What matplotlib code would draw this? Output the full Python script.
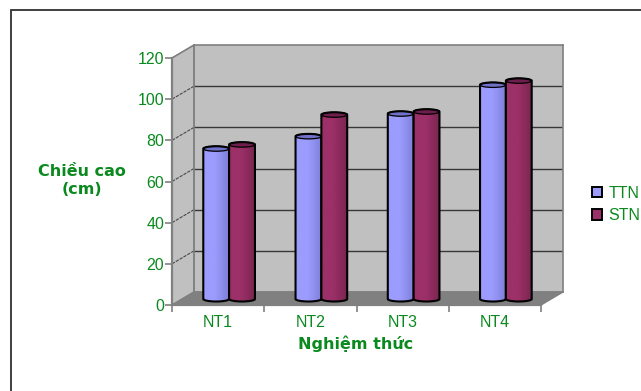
import numpy as np
import matplotlib
matplotlib.use("Agg")
import matplotlib.pyplot as plt
from matplotlib.patches import Polygon, Rectangle, Ellipse, Patch, PathPatch
from matplotlib.path import Path
from matplotlib.transforms import Affine2D

categories = ["NT1", "NT2", "NT3", "NT4"]
series_names = ["TTN", "STN"]
ttn = [73, 79, 90, 104]
stn = [75, 89.5, 91, 106]
yticks = [0, 20, 40, 60, 80, 100, 120]
xlabel = "Nghiệm thức"
ylabel = "Chiều cao\n(cm)"

GREEN = "#0a8a1e"
W, H = 641, 391
plt.rcParams["font.family"] = ["Liberation Sans", "DejaVu Sans"]
fig = plt.figure(figsize=(W / 100, H / 100), dpi=100, facecolor="white")

def rect(x0, y_top, x1, y_bot):
    return [x0 / W, 1 - y_bot / H, (x1 - x0) / W, (y_bot - y_top) / H]

# figure frame (top and left sides visible)
fig.add_artist(Rectangle((10.5 / W, -0.1), 1.2, 1 - 9.5 / H + 0.1, transform=fig.transFigure,
                         fill=False, ec="#303030", lw=1.3))

# back wall axes
ax = fig.add_axes(rect(194, 45, 563, 292), facecolor="#c0c0c0")
ax.set_xlim(0, 4)
ax.set_ylim(0, 120)
ax.set_xticks([])
ax.set_yticks([])
for s in ax.spines.values():
    s.set_color("#808080")
    s.set_linewidth(1.2)

DX, DY = -22, -13  # depth in display pixels (y up)
mid = ax.transData + Affine2D().translate(DX / 2, -7)
px_x = 4 / 369
px_y = 120 / 247

# side wall and floor
side = Polygon([(0, 0), (0, 120), (DX * px_x, 120 + DY * px_y), (DX * px_x, DY * px_y)],
               closed=True, fc="#c0c0c0", ec="#808080", lw=1, clip_on=False, zorder=0.5)
ax.add_patch(side)
floor = Polygon([(0, 0), (4, 0), (4 + DX * px_x, DY * px_y), (DX * px_x, DY * px_y)],
                closed=True, fc="#808080", ec="#808080", lw=1, clip_on=False, zorder=0.6)
ax.add_patch(floor)

for v in yticks[1:-1]:
    ax.plot([0, 4], [v, v], color="#383838", lw=1, zorder=1)
    ax.plot([DX * px_x, 0], [v + DY * px_y, v], color="#484848", lw=0.8, ls=(0, (3, 1)),
            clip_on=False, zorder=1)
ax.plot([DX * px_x, 0], [120 + DY * px_y, 120], color="#808080", lw=1, clip_on=False, zorder=1)

# cylinders
BW = 0.28
CAP_PX = 5
cap_h = CAP_PX * px_y
light = {"TTN": "#9c9cff", "STN": "#9c3068"}
dark = {"TTN": "#7f7fd8", "STN": "#7a2650"}
capc = {"TTN": "#7070c8", "STN": "#6e1e4c"}

def gradient(c0, c1):
    a = np.array(matplotlib.colors.to_rgb(c0))
    b = np.array(matplotlib.colors.to_rgb(c1))
    t = np.linspace(0, 1, 64)[:, None]
    t = np.where(t < 0.45, 0, (t - 0.45) / 0.55)
    return (a * (1 - t) + b * t)[None, :, :]

def cylinder(cx, v, name, z):
    x0, x1 = cx - BW / 2, cx + BW / 2
    k = 0.5523
    hw, hh = BW / 2, cap_h / 2
    verts = [(x0, v), (x0, 0),
             (x0, -k * hh), (cx - k * hw, -hh), (cx, -hh),
             (cx + k * hw, -hh), (x1, -k * hh), (x1, 0),
             (x1, v),
             (x1, v + k * hh), (cx + k * hw, v + hh), (cx, v + hh),
             (cx - k * hw, v + hh), (x0, v + k * hh), (x0, v), (x0, v)]
    codes = [Path.MOVETO, Path.LINETO, Path.CURVE4, Path.CURVE4, Path.CURVE4,
             Path.CURVE4, Path.CURVE4, Path.CURVE4, Path.LINETO,
             Path.CURVE4, Path.CURVE4, Path.CURVE4, Path.CURVE4, Path.CURVE4, Path.CURVE4,
             Path.CLOSEPOLY]
    path = Path(verts, codes)
    im = ax.imshow(gradient(light[name], dark[name]), extent=(x0, x1, -hh, v + hh),
                   aspect="auto", transform=mid, zorder=z, interpolation="bilinear")
    im.set_clip_box(fig.bbox)
    im.set_clip_path(PathPatch(path, transform=mid))
    ax.add_patch(Ellipse((cx, v), BW, cap_h, transform=mid, fc=capc[name], ec="black", lw=0.9,
                         clip_on=False, zorder=z + 0.01))
    ax.add_patch(PathPatch(path, transform=mid, fc="none", ec="black", lw=1.5,
                           clip_on=False, zorder=z + 0.02))

for i, (a, b) in enumerate(zip(ttn, stn)):
    cylinder(i + 0.5 - BW / 2, a, "TTN", 3)
    cylinder(i + 0.5 + BW / 2, b, "STN", 4)
ax.set_xlim(0, 4)
ax.set_ylim(0, 120)

# front axes carrying the ticks and labels
fx = fig.add_axes(rect(172, 58, 541, 305), facecolor="none")
fx.set_xlim(0, 4)
fx.set_ylim(0, 120)
fx.set_yticks(yticks)
fx.set_yticklabels([str(v) for v in yticks], color=GREEN, fontsize=11.5)
fx.set_xticks(range(5))
fx.set_xticklabels([])
fx.set_xticks(np.arange(4) + 0.5, categories, minor=True, color=GREEN, fontsize=11.5)
fx.tick_params(axis="x", which="minor", length=0, pad=7)
fx.tick_params(axis="x", which="major", length=5, color="#808080", width=1.2)
fx.tick_params(axis="y", length=5, color="#808080", width=1.2, pad=0.5)
for s in ("top", "right"):
    fx.spines[s].set_visible(False)
for s in ("left", "bottom"):
    fx.spines[s].set_color("#808080")
    fx.spines[s].set_linewidth(1.6)

fig.text(356 / W, 1 - 344 / H, xlabel, ha="center", va="center", color=GREEN,
         fontsize=11.5, fontweight="bold", family=["DejaVu Sans"])
fig.text(82 / W, 1 - 181 / H, ylabel, ha="center", va="center", color=GREEN,
         fontsize=11.5, fontweight="bold", family=["DejaVu Sans"], linespacing=1.25)

handles = [Patch(fc="#9c9cff", ec="black", lw=1.4), Patch(fc="#9c3068", ec="black", lw=1.4)]
fig.legend(handles, series_names, loc="center left", bbox_to_anchor=(589 / W, 1 - 204.5 / H),
           frameon=False, fontsize=11.5, labelcolor=GREEN, handlelength=0.6, handleheight=0.6,
           handletextpad=0.4, labelspacing=0.45, borderpad=0.2, borderaxespad=0)

fig.savefig("out.png", dpi=100)
